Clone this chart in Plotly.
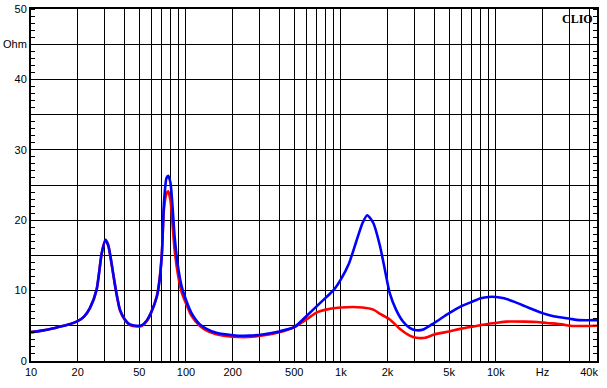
import numpy as np
import plotly.graph_objects as go

# ---- data (frequency in Hz, impedance in Ohm) ----
blue_freq = [10, 12, 14.3, 17, 20, 22, 24, 26.5, 28.6, 30.2, 31.5, 33.1, 35.3, 37.5, 40.4, 43.5,
             47.9, 52, 56, 59.4, 65, 67.7, 70, 72.1, 74.9, 76.9, 79.5, 81.9, 84.5, 88.9, 93.8,
             100, 108.7, 123, 138, 157, 200, 256, 320, 400, 500, 600, 700, 800, 900, 1000,
             1130, 1250, 1380, 1480, 1620, 1790, 1930, 2070, 2270, 2510, 2780, 3070, 3400,
             4000, 5000, 6000, 7000, 8000, 9000, 10000, 11300, 13200, 15400, 17900, 20000,
             23600, 30000, 34600, 45000]
blue_ohm = [4.1, 4.35, 4.7, 5.1, 5.65, 6.3, 7.5, 10.1, 15.3, 17.2, 16.5, 13.9, 10.1, 7.3, 5.9, 5.2,
            5.0, 5.1, 5.8, 6.8, 9.2, 11.6, 15.3, 22.4, 26.0, 26.3, 25.3, 22.0, 17.7, 13.4, 10.6,
            8.7, 6.8, 5.2, 4.5, 4.0, 3.66, 3.6, 3.8, 4.2, 4.8, 6.4, 7.8, 9.0, 10.1, 11.6,
            13.9, 16.8, 19.6, 20.7, 19.6, 16.3, 12.8, 9.6, 7.3, 5.65, 4.7, 4.37, 4.47,
            5.4, 6.8, 7.8, 8.4, 8.9, 9.1, 9.1, 8.9, 8.4, 7.8, 7.2, 6.8,
            6.35, 6.0, 5.8, 5.8]

red_freq = [10, 12, 14.3, 17, 20, 22, 24, 26.5, 28.6, 30.2, 31.5, 33.1, 35.3, 37.5, 40.4, 43.5,
            47.9, 52, 56, 59.4, 65, 67.7, 70, 72.1, 74.9, 76.9, 79.5, 81.9, 84.5, 88.9, 93.8,
            100, 108.7, 123, 138, 157, 200, 256, 320, 400, 500, 600, 700, 800, 1000, 1380,
            1620, 1790, 2070, 2400, 2780, 3070, 3500, 4000, 5000, 6000, 8000, 9000, 10000,
            11700, 15400, 18400, 21400, 26800, 30000, 45000]
red_ohm = [4.1, 4.35, 4.7, 5.1, 5.65, 6.3, 7.5, 10.1, 15.3, 17.1, 16.4, 13.8, 10.0, 7.2, 5.8, 5.1,
           4.9, 5.0, 5.7, 6.8, 9.3, 11.8, 15.5, 21.5, 23.8, 24.1, 22.8, 19.5, 15.8, 12.2, 9.8,
           8.2, 6.4, 4.95, 4.25, 3.8, 3.45, 3.4, 3.65, 4.1, 4.8, 5.9, 6.9, 7.3, 7.6, 7.6,
           7.3, 6.7, 5.9, 4.57, 3.6, 3.3, 3.3, 3.76, 4.2, 4.6, 5.1, 5.3, 5.4,
           5.6, 5.6, 5.55, 5.4, 5.2, 5.0, 5.0]

x_grid = [10, 20, 30, 40, 50, 60, 70, 80, 90,
          100, 200, 300, 400, 500, 600, 700, 800, 900,
          1000, 2000, 3000, 4000, 5000, 6000, 7000, 8000, 9000,
          10000, 20000, 30000, 40000]
x_labels = {10: "10", 20: "20", 50: "50", 100: "100", 200: "200", 500: "500",
            1000: "1k", 2000: "2k", 5000: "5k", 10000: "10k", 20000: "Hz", 40000: "40k"}
y_grid = [0, 5, 10, 15, 20, 25, 30, 35, 40, 45, 50]
y_labels = {0: "0", 10: "10", 20: "20", 30: "30", 40: "40", 45: "Ohm", 50: "50"}

fig = go.Figure()
fig.add_trace(go.Scatter(x=red_freq, y=red_ohm, mode="lines",
                         line=dict(color="#ff0000", width=2.6, shape="spline", smoothing=0.6),
                         showlegend=False, hoverinfo="skip"))
fig.add_trace(go.Scatter(x=blue_freq, y=blue_ohm, mode="lines",
                         line=dict(color="#0000ff", width=2.6, shape="spline", smoothing=0.6),
                         showlegend=False, hoverinfo="skip"))

font = dict(family="Liberation Sans, Arial, sans-serif", size=11, color="black")

fig.update_xaxes(type="log", range=[1, np.log10(45000)], automargin=False,
                 tickvals=x_grid, ticktext=[x_labels.get(v, "") for v in x_grid],
                 showgrid=True, gridcolor="black", gridwidth=1,
                 showline=True, linecolor="black", linewidth=2, mirror=True,
                 ticks="", tickfont=font, zeroline=False, fixedrange=True)
fig.update_yaxes(range=[0, 50], automargin=False,
                 tickvals=y_grid, ticktext=[y_labels.get(v, "") for v in y_grid],
                 showgrid=True, gridcolor="black", gridwidth=1,
                 showline=True, linecolor="black", linewidth=2, mirror="allticks",
                 ticks="", tickfont=font, zeroline=False,
                 minor=dict(dtick=1, ticks="inside", ticklen=4, tickcolor="black",
                            tickwidth=1, showgrid=False),
                 fixedrange=True)

fig.add_annotation(text="<b>CLIO</b>", xref="paper", yref="paper", x=0.997, y=0.997,
                   xanchor="right", yanchor="top", showarrow=False,
                   font=dict(family="Liberation Serif, Times New Roman, serif", size=12, color="black"))

fig.update_layout(width=607, height=388,
                  margin=dict(l=31, r=10, t=9, b=27, autoexpand=False),
                  paper_bgcolor="white", plot_bgcolor="white")

fig.write_html("out.html", config={"displayModeBar": False, "staticPlot": True},
               post_script="document.body.style.margin='0';")
